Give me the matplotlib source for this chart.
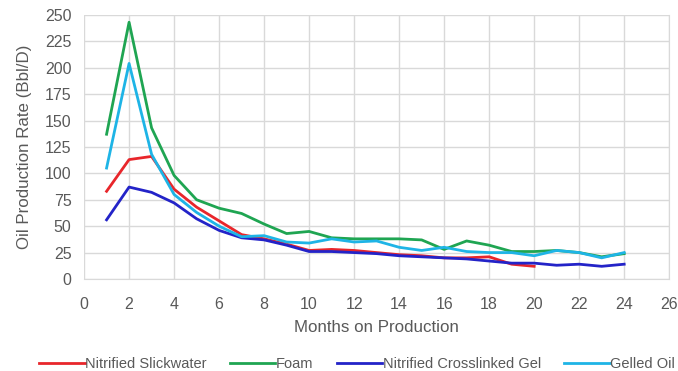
import numpy as np
import matplotlib
matplotlib.use("Agg")
import matplotlib.pyplot as plt

plt.rcParams['font.family'] = ['Liberation Sans', 'DejaVu Sans']

# Dados
meses = np.arange(1, 25)
slickwater = [83, 113, 116, 85, 68, 55, 42, 38, 33, 27, 28, 27, 25, 23, 22, 20, 20, 21, 14, 12]
foam = [137, 243, 143, 98, 75, 67, 62, 52, 43, 45, 39, 38, 38, 38, 37, 28, 36, 32, 26, 26, 27, 25, 21, 24]
crosslinked = [56, 87, 82, 72, 57, 46, 39, 37, 32, 26, 26, 25, 24, 22, 21, 20, 19, 17, 15, 15, 13, 14, 12, 14]
gelled_oil = [105, 204, 118, 80, 63, 50, 40, 41, 35, 34, 38, 35, 36, 30, 27, 30, 26, 25, 25, 22, 27, 25, 20, 25]

series = [
    ("Nitrified Slickwater", slickwater, "#e8262b"),
    ("Foam", foam, "#1fa552"),
    ("Nitrified Crosslinked Gel", crosslinked, "#2323c8"),
    ("Gelled Oil", gelled_oil, "#1eb4e6"),
]

text_color = "#595959"

fig = plt.figure(figsize=(6.78, 3.71), dpi=100)
ax = fig.add_axes([0.124, 0.248, 0.863, 0.712])

for nome, valores, cor in series:
    ax.plot(meses[:len(valores)], valores, color=cor, lw=2, label=nome)

ax.set_xlim(0, 26)
ax.set_ylim(0, 250)
ax.set_xticks(range(0, 27, 2))
ax.set_yticks(range(0, 251, 25))
ax.grid(True, color="#d9d9d9", lw=1)
ax.set_axisbelow(True)
for lado in ["top", "left"]:
    ax.spines[lado].set_visible(False)
ax.spines["right"].set_color("#d9d9d9")
ax.spines["bottom"].set_color("#d9d9d9")
ax.tick_params(axis="x", length=0, colors=text_color, labelsize=11.5, pad=13)
ax.tick_params(axis="y", length=0, colors=text_color, labelsize=11.5, pad=9)

ax.set_xlabel("Months on Production", color=text_color, fontsize=12.2, labelpad=6)
ax.set_ylabel("Oil Production Rate (Bbl/D)", color=text_color, fontsize=12.2, labelpad=9)

leg = fig.legend(loc="lower center", bbox_to_anchor=(0.527, -0.035), ncol=4, frameon=False,
                 fontsize=10.5, handlelength=3.1, handletextpad=0.05, columnspacing=1.6)
for t in leg.get_texts():
    t.set_color(text_color)

fig.savefig("out.png", dpi=100, facecolor="white")
